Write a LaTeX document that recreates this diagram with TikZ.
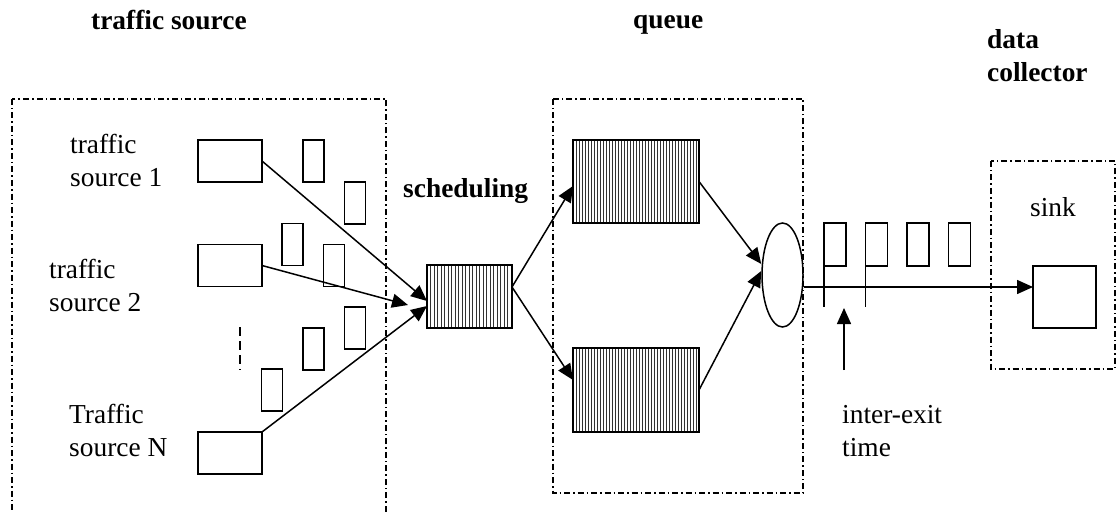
\documentclass[tikz,border=0pt]{standalone}
\usepackage{fontspec}
\setmainfont{Liberation Serif}
\usetikzlibrary{arrows.meta,shapes.geometric}

\tikzset{
  % multi-line labels are anchored at the baseline of their last line
  txt/.style={anchor=base west, inner sep=0pt, align=left,
              font=\fontsize{27.4}{33}\selectfont},
  ttl/.style={txt, font=\fontsize{27.4}{33}\selectfont\bfseries},
  region/.style={draw, line width=1.8pt,
                 dash pattern=on 6pt off 3pt on 1.5pt off 3pt},
  plainbox/.style={draw, line width=1.7pt, inner sep=0pt, outer sep=0pt},
  srcbox/.style={plainbox, minimum width=64pt, minimum height=42pt},
  pkt/.style={plainbox, minimum width=21pt, minimum height=42pt},
  % box filled with vertical hatching, #1 = spacing of the hatch lines
  hatchbox/.style={plainbox, path picture={
      \foreach \k in {1,...,45}{
        \draw[line width=1pt, black!80]
          ([xshift={\k*#1}]path picture bounding box.south west) --
          ([xshift={\k*#1}]path picture bounding box.north west);
      }}},
  arr/.style={line width=1.5pt, -{Triangle[length=16pt,width=14pt]}},
  link/.style={line width=1.5pt},
  gap/.style={line width=1.5pt, dash pattern=on 9pt off 5pt}
}

\begin{document}
\begin{tikzpicture}[x=1pt,y=-1pt]
\useasboundingbox (0,0) rectangle (1118,513);

% stage headings
\node[ttl] (hsrc)   at (91,30)  {traffic source};
\node[ttl] (hqueue) at (633,29) {queue};
\node[ttl] (hcoll)  at (987,82) {data\\collector};
\node[ttl] (hsched) at (403,197) {scheduling};

% dash-dot stage frames
\draw[region] (12,99) rectangle (386,530);
\draw[region] (553,99) rectangle (803,493);
\draw[region] (991,161) rectangle (1115,369);

% traffic sources
\node[txt] (l1) at (70,186)  {traffic\\source 1};
\node[txt] (l2) at (49,311)  {traffic\\source 2};
\node[txt] (lN) at (69,456)  {Traffic\\source N};
\node[srcbox] (src1) at (230,161)   {};
\node[srcbox] (src2) at (230,265.5) {};
\node[srcbox] (srcN) at (230,453)   {};
\draw[gap] (240,327) -- (240,370);

% packets in flight
\node[pkt] (p1) at (313.5,161)   {};
\node[pkt] (p2) at (355,203)     {};
\node[pkt] (p3) at (292.5,244.5) {};
\node[pkt] (p4) at (334,265.5)   {};
\node[pkt] (p5) at (355,328)     {};
\node[pkt] (p6) at (313.5,349)   {};
\node[pkt] (p7) at (272,390)     {};

% scheduler
\node[hatchbox=3.5pt, minimum width=85pt, minimum height=63pt] (sched) at (469.5,296.5) {};

% queues and server
\node[hatchbox=3pt, minimum width=126pt, minimum height=83pt] (q1) at (636,181.5) {};
\node[hatchbox=3pt, minimum width=126pt, minimum height=84pt] (q2) at (636,390) {};
\node[ellipse, draw, line width=1.5pt, inner sep=0pt,
      minimum width=41pt, minimum height=104pt] (srv) at (782.5,275) {};

% departing packets
\node[pkt, minimum width=22pt, minimum height=43pt] (o1) at (835,244.5)   {};
\node[pkt, minimum width=22pt, minimum height=43pt] (o2) at (876.5,244.5) {};
\node[pkt, minimum width=22pt, minimum height=43pt] (o3) at (918,244.5)   {};
\node[pkt, minimum width=22pt, minimum height=43pt] (o4) at (959.5,244.5) {};
\draw[link] (o1.south west) -- ++(0,41);
\draw[link] (o2.south west) -- ++(0,41);

% sink
\node[txt] (lsink) at (1030,216) {sink};
\node[plainbox, minimum width=63pt, minimum height=62pt] (sinkbox) at (1064.5,297) {};

% inter-exit time marker
\node[txt] (lie) at (842,456) {inter-exit\\time};
\coordinate (ietail) at (844,370);
\coordinate (ietip)  at (844,308);
\draw[arr] (ietail) -- (ietip);

% connectors
\draw[arr] (src1.east) -- ([yshift=-4.5pt]sched.west);
\draw[arr] (src2.east) -- ([xshift=-19pt,yshift=-8.5pt]sched.west);
\draw[arr] (srcN.north east) -- ([yshift=-9.5pt]sched.west);
\draw[arr] ([yshift=9.5pt]sched.east) -- ([yshift=-4.5pt]q1.west);
\draw[arr] ([yshift=9.5pt]sched.east) -- ([yshift=10pt]q2.west);
\draw[arr] (q1.east) -- ([yshift=11pt]srv.west);
\draw[arr] (q2.east) -- ([yshift=4pt]srv.west);
\draw[arr] ([yshift=-12pt]srv.east) -- ([yshift=-12pt]srv.east -| sinkbox.west);
\end{tikzpicture}
\end{document}
